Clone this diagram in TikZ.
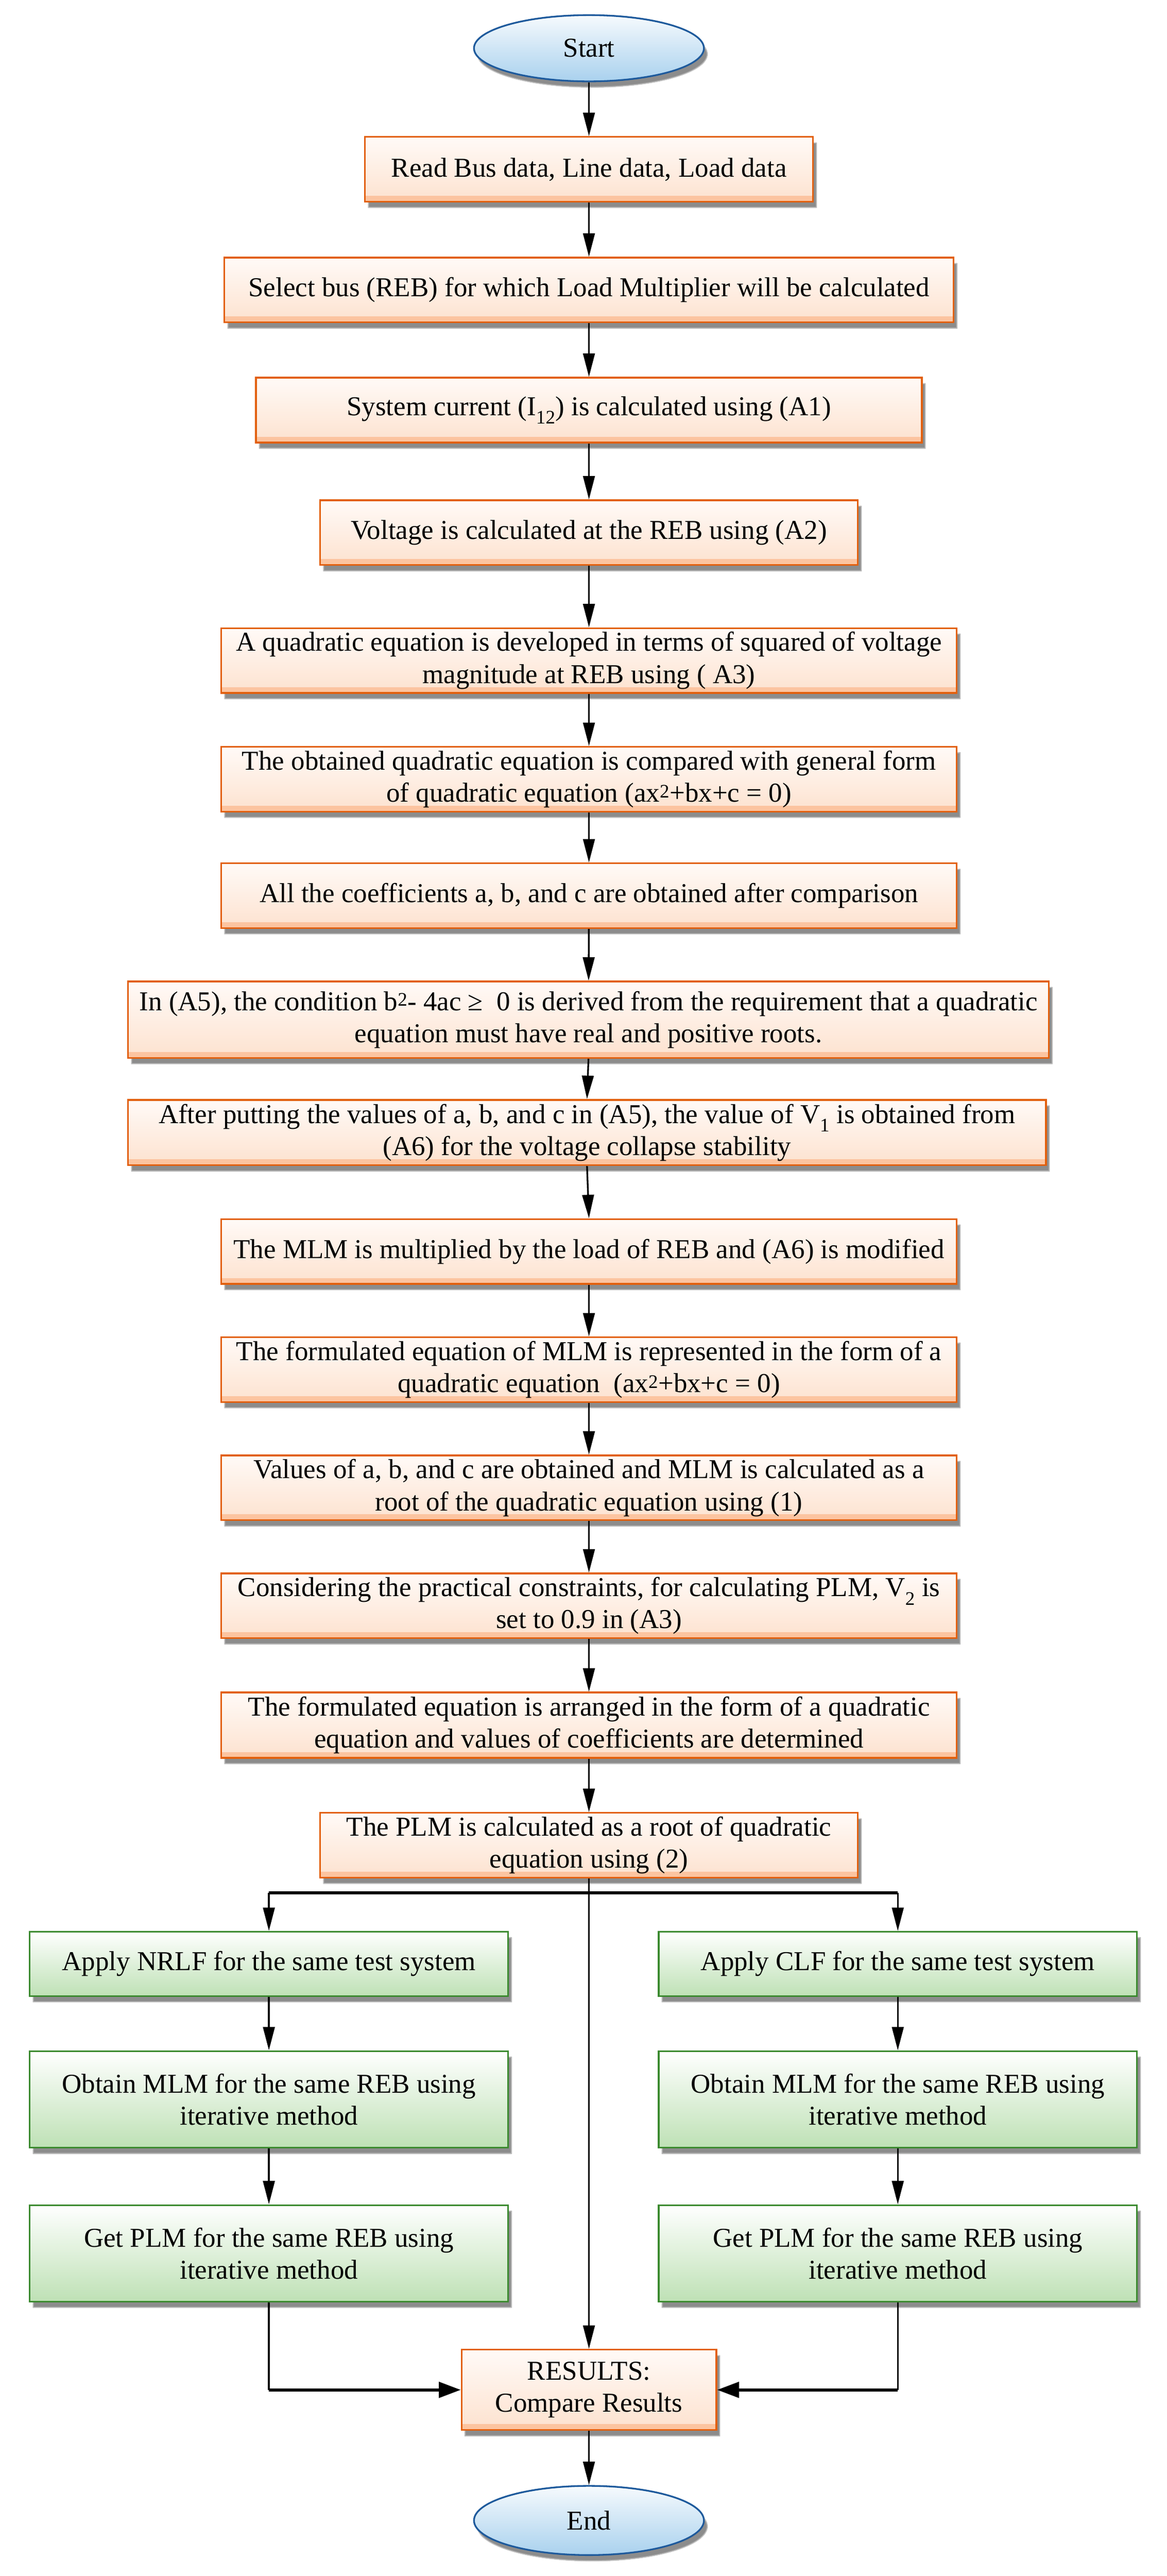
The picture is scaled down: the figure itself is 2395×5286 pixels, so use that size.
\documentclass[tikz,border=0pt]{standalone}
\usepackage{fontspec}
\setmainfont{Liberation Serif}
\usetikzlibrary{arrows.meta,shapes.geometric,shadows.blur}
\definecolor{obord}{HTML}{E2600E}
\definecolor{otop}{HTML}{FFFAF7}
\definecolor{obot}{HTML}{FDE2CF}
\definecolor{oband}{HTML}{FCC4A0}
\definecolor{gbord}{HTML}{3B8A2F}
\definecolor{gtop}{HTML}{FFFFFF}
\definecolor{gbot}{HTML}{BEE1B5}
\definecolor{bbord}{HTML}{1E5A9C}
\definecolor{btop}{HTML}{F6FAFD}
\definecolor{bbot}{HTML}{A9D1EE}
\tikzset{
  base/.style={inner sep=0pt, align=center, font=\fontsize{56}{66}\selectfont,
    blur shadow={shadow xshift=7pt, shadow yshift=-12pt, shadow blur steps=8, shadow opacity=45}},
  obox/.style={base, rectangle, draw=obord, line width=3.5pt, top color=otop, bottom color=obot,
    minimum height=133pt,
    path picture={\fill[oband] ([yshift=12pt]path picture bounding box.south west) rectangle (path picture bounding box.south east);}},
  gbox/.style={base, rectangle, draw=gbord, line width=3.5pt, top color=gtop, bottom color=gbot,
    minimum width=982pt},
  term/.style={base, ellipse, draw=bbord, line width=3.5pt, top color=btop, bottom color=bbot,
    minimum width=472pt, minimum height=136pt},
  arr/.style={line width=3.5pt, -{Triangle[length=48pt,width=24pt]}},
  tharr/.style={line width=6pt, -{Triangle[length=45pt,width=32pt]}},
  ln/.style={line width=3.5pt},
  thln/.style={line width=5.5pt},
}
\begin{document}
\begin{tikzpicture}[x=1pt,y=-1pt]
\useasboundingbox (0,0) rectangle (2395,5286);
\node[term] (start) at (1209,99) {Start};
\node[obox, minimum width=920pt] (n1) at (1209,347.5) {Read Bus data, Line data, Load data};
\node[obox, minimum width=1497pt] (n2) at (1209,595) {Select bus (REB) for which Load Multiplier will be calculated};
\node[obox, minimum width=1367pt] (n3) at (1209,841.5) {System current (I\textsubscript{12}) is calculated using (A1)};
\node[obox, minimum width=1104pt] (n4) at (1209,1093) {Voltage is calculated at the REB using (A2)};
\node[obox, minimum width=1510pt] (n5) at (1209,1355.5) {A quadratic equation is developed in terms of squared of voltage\\magnitude at REB using ( A3)};
\node[obox, minimum width=1510pt] (n6) at (1209,1599) {The obtained quadratic equation is compared with general form\\of quadratic equation (ax\textsuperscript{2}+bx+c = 0)};
\node[obox, minimum width=1510pt] (n7) at (1209,1838) {All the coefficients a, b, and c are obtained after comparison};
\node[obox, minimum width=1890pt, minimum height=157pt] (n8) at (1208,2092.5) {In (A5), the condition b\textsuperscript{2}- 4ac ≥\ \ 0 is derived from the requirement that a quadratic\\equation must have real and positive roots.};
\node[obox, minimum width=1884pt, minimum height=134pt] (n9) at (1205,2324) {After putting the values of a, b, and c in (A5), the value of V\textsubscript{1} is obtained from\\(A6) for the voltage collapse stability};
\node[obox, minimum width=1510pt] (n10) at (1209,2568) {The MLM is multiplied by the load of REB and (A6) is modified};
\node[obox, minimum width=1510pt] (n11) at (1209,2810.5) {The formulated equation of MLM is represented in the form of a\\quadratic equation\ \ (ax\textsuperscript{2}+bx+c = 0)};
\node[obox, minimum width=1510pt] (n12) at (1209,3053) {Values of a, b, and c are obtained and MLM is calculated as a\\root of the quadratic equation using (1)};
\node[obox, minimum width=1510pt] (n13) at (1209,3295) {Considering the practical constraints, for calculating PLM, V\textsubscript{2} is\\set to 0.9 in (A3)};
\node[obox, minimum width=1510pt, minimum height=134pt] (n14) at (1209,3540) {The formulated equation is arranged in the form of a quadratic\\equation and values of coefficients are determined};
\node[obox, minimum width=1104pt] (n15) at (1209,3786.5) {The PLM is calculated as a root of quadratic\\equation using (2)};
\node[gbox, minimum height=132pt] (gl1) at (552,4030) {Apply NRLF for the same test system};
\node[gbox, minimum height=132pt] (gr1) at (1843,4030) {Apply CLF for the same test system};
\node[gbox, minimum height=198pt] (gl2) at (552,4308) {Obtain MLM for the same REB using\\iterative method};
\node[gbox, minimum height=198pt] (gr2) at (1843,4308) {Obtain MLM for the same REB using\\iterative method};
\node[gbox, minimum height=198pt] (gl3) at (552,4624) {Get PLM for the same REB using\\iterative method};
\node[gbox, minimum height=198pt] (gr3) at (1843,4624) {Get PLM for the same REB using\\iterative method};
\node[obox, minimum width=523pt, minimum height=165pt] (res) at (1209,4904) {RESULTS:\\Compare Results};
\node[term, minimum height=142pt] (end) at (1209,5172) {End};
\coordinate (bl) at (552,3884);
\coordinate (br) at (1843,3884);
\coordinate (jl) at (552,4904);
\coordinate (jr) at (1843,4904);
\draw[arr] (start) -- (n1);
\draw[arr] (n1) -- (n2);
\draw[arr] (n2) -- (n3);
\draw[arr] (n3) -- (n4);
\draw[arr] (n4) -- (n5);
\draw[arr] (n5) -- (n6);
\draw[arr] (n6) -- (n7);
\draw[arr] (n7) -- (n8);
\draw[arr] (n8.south) -- (n9.north);
\draw[arr] (n9.south) -- (n10.north);
\draw[arr] (n10) -- (n11);
\draw[arr] (n11) -- (n12);
\draw[arr] (n12) -- (n13);
\draw[arr] (n13) -- (n14);
\draw[arr] (n14) -- (n15);
\draw[arr] (n15) -- (res);
\draw[thln] (bl) -- (br);
\draw[arr] (bl) -- (gl1);
\draw[arr] (br) -- (gr1);
\draw[arr] (gl1) -- (gl2);
\draw[arr] (gr1) -- (gr2);
\draw[arr] (gl2) -- (gl3);
\draw[arr] (gr2) -- (gr3);
\draw[ln] (gl3) -- (jl);
\draw[ln] (gr3) -- (jr);
\draw[tharr] (jl) -- (res);
\draw[tharr] (jr) -- (res);
\draw[arr] (res) -- (end);
\end{tikzpicture}
\end{document}
